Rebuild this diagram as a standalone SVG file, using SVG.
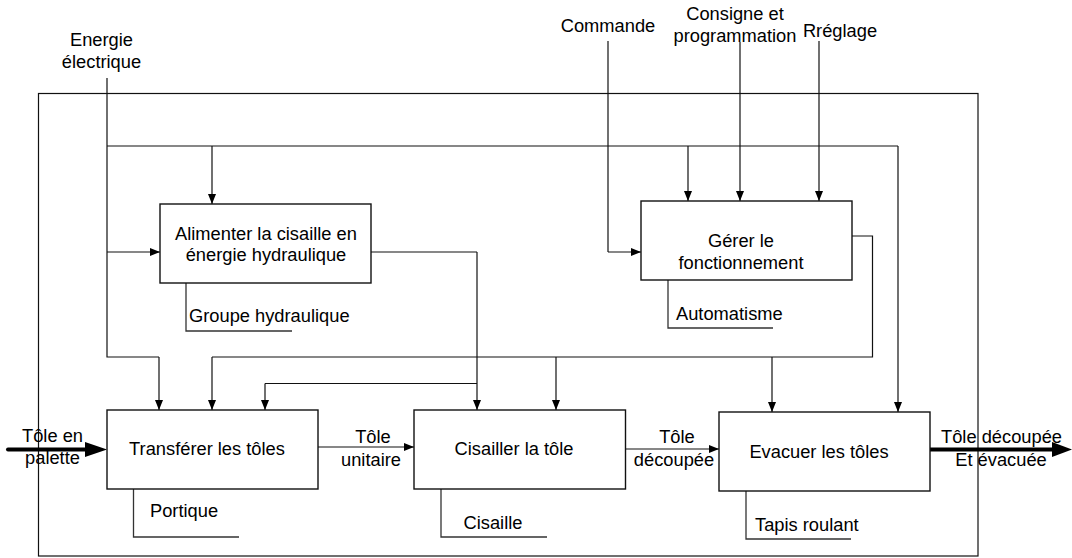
<svg xmlns="http://www.w3.org/2000/svg" width="1072" height="558" viewBox="0 0 1072 558">
<style>
text{font-family:"Liberation Sans",Arial,sans-serif;font-size:18.3px;fill:#000}
.c{text-anchor:middle}
.box{fill:#fff;stroke:#111;stroke-width:1.4}
.ln{fill:none;stroke:#111;stroke-width:1.2}
.ar{fill:none;stroke:#111;stroke-width:1.2;marker-end:url(#ah)}
.mec{fill:none;stroke:#333;stroke-width:1.3}
.thick{fill:none;stroke:#000;stroke-width:4;stroke-linecap:round}
</style>
<defs>
<marker id="ah" markerUnits="userSpaceOnUse" markerWidth="11" markerHeight="9" refX="10" refY="4" orient="auto">
<path d="M0,0 L10,4 L0,8 z" fill="#000"/>
</marker>
</defs>
<rect x="0" y="0" width="1072" height="558" fill="#fff"/>
<g id="frame"><rect x="38.5" y="93.5" width="939.5" height="462.5" class="ln"/></g>
<g id="connectors">
<!-- Energie électrique -->
<path class="ln" d="M107,78 V357 H159"/>
<path class="ar" d="M159,357 V410"/>
<path class="ln" d="M107,146 H898"/>
<path class="ar" d="M898,146 V412"/>
<path class="ar" d="M212,146 V204"/>
<path class="ar" d="M688,146 V201"/>
<path class="ar" d="M107,252 H160"/>
<!-- Commande etc -->
<path class="ln" d="M608,41 V252"/>
<path class="ar" d="M608,252 H641"/>
<path class="ar" d="M740,42 V201"/>
<path class="ar" d="M819,41 V201"/>
<!-- hydraulique -->
<path class="ln" d="M371,252 H477"/>
<path class="ar" d="M477,252 V410"/>
<path class="ln" d="M477,383.5 H265"/>
<path class="ar" d="M265,383.5 V410"/>
<!-- Gérer output / control -->
<path class="ln" d="M852,236 H872.5 V357 H212"/>
<path class="ar" d="M212,357 V410"/>
<path class="ar" d="M556,357 V410"/>
<path class="ar" d="M772,357 V412"/>
<!-- flows -->
<path class="ar" d="M318,447 H414"/>
<path class="ar" d="M626,449 H719"/>
<path class="thick" d="M8,449.5 H90"/>
<polygon points="85,442 107,449.5 85,457" fill="#000"/>
<path class="thick" d="M930,449.5 H1056"/>
<polygon points="1052,442 1072,449.5 1052,457" fill="#000"/>
<!-- mechanisms -->
<path class="mec" d="M186,283 V331 H292"/>
<path class="mec" d="M668,280 V328 H773"/>
<path class="mec" d="M133.5,489 V537 H239"/>
<path class="mec" d="M441,489 V537 H547"/>
<path class="mec" d="M746,491 V539 H851"/>
</g>
<g id="labels">
<text class="c" x="101.5" y="46">Energie</text>
<text class="c" x="101.5" y="68">électrique</text>
<text class="c" x="608" y="32">Commande</text>
<text class="c" x="735" y="20">Consigne et</text>
<text class="c" x="735" y="42">programmation</text>
<text class="c" x="840" y="37">Rréglage</text>
<text class="c" x="52.5" y="442">Tôle en</text>
<text class="c" x="52.5" y="464">palette</text>
<text class="c" x="373" y="443">Tôle</text>
<text class="c" x="371" y="466">unitaire</text>
<text class="c" x="677" y="443">Tôle</text>
<text class="c" x="674" y="466">découpée</text>
<text class="c" x="1001.5" y="443">Tôle découpée</text>
<text class="c" x="1001" y="466">Et évacuée</text>
<text x="189" y="322">Groupe hydraulique</text>
<text x="676" y="319.5">Automatisme</text>
<text x="150" y="516.5">Portique</text>
<text x="463.5" y="529">Cisaille</text>
<text x="755" y="530.5">Tapis roulant</text>
</g>
<g id="node-alimenter">
<rect class="box" x="160" y="204" width="211" height="79"/>
<text class="c" x="266" y="239.5">Alimenter la cisaille en</text>
<text class="c" x="266" y="261">énergie hydraulique</text>
</g>
<g id="node-gerer">
<rect class="box" x="641" y="201" width="211" height="79"/>
<text class="c" x="741" y="247">Gérer le</text>
<text class="c" x="741" y="269">fonctionnement</text>
</g>
<g id="node-transferer">
<rect class="box" x="107" y="410" width="211" height="79"/>
<text class="c" x="207" y="455">Transférer les tôles</text>
</g>
<g id="node-cisailler">
<rect class="box" x="414" y="410" width="211.5" height="79"/>
<text class="c" x="514" y="455">Cisailler la tôle</text>
</g>
<g id="node-evacuer">
<rect class="box" x="719" y="412" width="211" height="79"/>
<text class="c" x="819" y="458">Evacuer les tôles</text>
</g>
</svg>
